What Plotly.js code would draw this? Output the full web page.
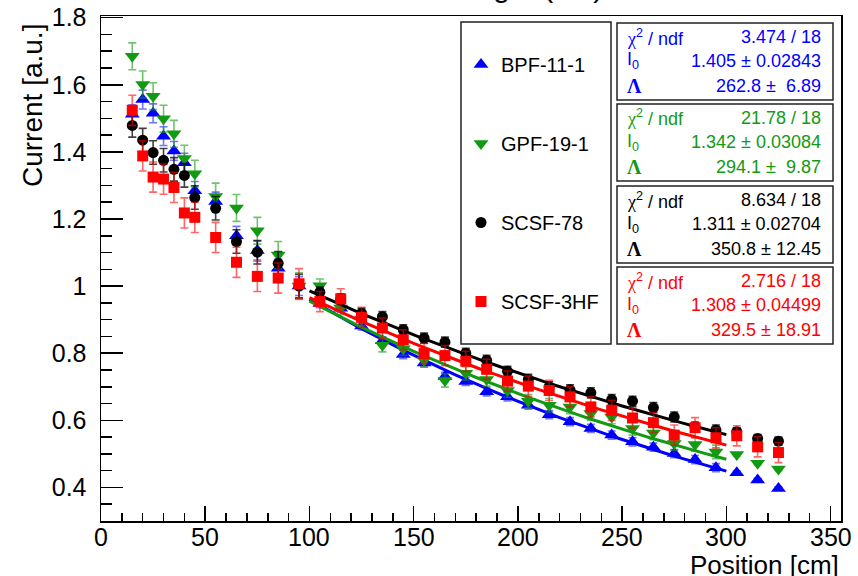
<!DOCTYPE html>
<html><head><meta charset="utf-8">
<script src="https://cdn.plot.ly/plotly-3.0.1.min.js"></script>
<style>html,body{margin:0;padding:0;background:#fff}#chart{width:858px;height:576px}</style>
</head><body><div id="chart"></div>
<script>
// ---------- data ----------
const positions = [15,20,25,30,35,40,45,55,65,75,85,95,105,115,125,135,145,155,165,175,185,195,205,215,225,235,245,255,265,275,285,295,305,315,325];
const seriesNames = ['BPF-11-1','GPF-19-1','SCSF-78','SCSF-3HF'];

const bpfValues  = [1.512,1.556,1.515,1.447,1.403,1.368,1.284,1.252,1.150,1.106,1.053,1.000,0.948,0.934,0.881,0.837,0.796,0.771,0.731,0.716,0.685,0.670,0.645,0.617,0.596,0.576,0.556,0.536,0.520,0.501,0.483,0.459,0.444,0.422,0.397];
const gpfValues  = [1.685,1.601,1.566,1.499,1.454,1.380,1.335,1.267,1.233,1.165,1.093,1.000,1.001,0.935,0.902,0.824,0.813,0.779,0.719,0.740,0.722,0.689,0.657,0.645,0.640,0.620,0.610,0.576,0.562,0.531,0.528,0.506,0.498,0.472,0.455];
const scsf78Values = [1.479,1.435,1.398,1.375,1.348,1.330,1.264,1.232,1.133,1.101,1.068,1.000,0.982,0.962,0.919,0.909,0.870,0.845,0.833,0.800,0.779,0.746,0.722,0.700,0.691,0.682,0.662,0.657,0.638,0.610,0.580,0.571,0.566,0.546,0.538];
const scsf3hfValues = [1.524,1.388,1.325,1.319,1.294,1.218,1.205,1.145,1.071,1.029,1.024,1.007,0.954,0.962,0.907,0.875,0.840,0.799,0.793,0.776,0.752,0.717,0.702,0.689,0.670,0.640,0.630,0.607,0.593,0.556,0.578,0.548,0.554,0.521,0.504];

const bpfErrors  = [0.028,0.028,0.028,0.028,0.028,0.028,0.028,0.028,0.028,0.028,0.028,0.028,0.012,0.012,0.012,0.012,0.012,0.012,0.012,0.012,0.012,0.012,0.012,0.012,0.012,0.012,0.012,0.012,0.012,0.012,0.012,0.012,0.005,0.005,0.005];
const gpfErrors  = [0.040,0.040,0.040,0.040,0.040,0.040,0.040,0.040,0.040,0.040,0.040,0.040,0.020,0.020,0.020,0.020,0.020,0.020,0.020,0.020,0.020,0.020,0.020,0.020,0.020,0.020,0.020,0.020,0.020,0.020,0.020,0.020,0.005,0.005,0.005];
const scsf78Errors = [0.035,0.035,0.035,0.035,0.035,0.035,0.035,0.035,0.035,0.035,0.035,0.035,0.015,0.015,0.015,0.015,0.015,0.015,0.015,0.015,0.015,0.015,0.015,0.015,0.015,0.015,0.015,0.015,0.015,0.015,0.015,0.015,0.012,0.012,0.012];
const scsf3hfErrors = [0.045,0.045,0.045,0.045,0.045,0.045,0.045,0.045,0.045,0.045,0.045,0.045,0.030,0.030,0.030,0.030,0.030,0.030,0.030,0.030,0.030,0.030,0.030,0.030,0.030,0.030,0.030,0.030,0.030,0.030,0.030,0.030,0.030,0.030,0.030];

// fit results I(x) = I0 * exp(-x / Lambda), shown in the stat boxes
const fitI0 = [1.405, 1.342, 1.311, 1.308];
const fitLambda = [262.8, 294.1, 350.8, 329.5];
const fitRange = [100, 300];

const statsChi = ['3.474 / 18', '21.78 / 18', '8.634 / 18', '2.716 / 18'];
const statsI0 = ['1.405 ± 0.02843', '1.342 ± 0.03084', '1.311 ± 0.02704', '1.308 ± 0.04499'];
const statsLambda = ['262.8 ±  6.89', '294.1 ±  9.87', '350.8 ± 12.45', '329.5 ± 18.91'];

const xTickVals = [0,50,100,150,200,250,300,350];
const yTickVals = [0.4,0.6,0.8,1,1.2,1.4,1.6,1.8];

// ---------- styles ----------
const colors = ['#0000ff', '#129a12', '#000000', '#ff0000'];
const errColors = ['rgba(0,0,255,0.55)', 'rgba(18,154,18,0.6)', 'rgba(0,0,0,0.75)', 'rgba(255,0,0,0.6)'];
const symbols = ['triangle-up', 'triangle-down', 'circle', 'square'];
const sizes = [13, 13, 11, 11];
const values = [bpfValues, gpfValues, scsf78Values, scsf3hfValues];
const errors = [bpfErrors, gpfErrors, scsf78Errors, scsf3hfErrors];

const FONT = 'Liberation Sans, Arial, Helvetica, sans-serif';
const L = 101, R = 841, T = 16, B = 521;
const px2x = p => (p - L) / (R - L);
const px2y = p => (B - p) / (B - T);

const traces = [];
for (let i = 0; i < 4; i++) {
  traces.push({
    type: 'scatter', mode: 'markers', name: seriesNames[i],
    x: positions, y: values[i],
    legendgroup: 'g' + i,
    marker: {symbol: symbols[i], size: sizes[i], color: colors[i], line: {width: 0}},
    error_y: {type: 'data', array: errors[i], visible: true, color: errColors[i], thickness: 1.6, width: 4},
    cliponaxis: false
  });
  const fx = [], fy = [];
  const n = 60;
  for (let k = 0; k <= n; k++) {
    const xv = fitRange[0] + (fitRange[1] - fitRange[0]) * k / n;
    fx.push(xv);
    fy.push(fitI0[i] * Math.exp(-xv / fitLambda[i]));
  }
  traces.push({
    type: 'scatter', mode: 'lines', x: fx, y: fy, showlegend: false,
    legendgroup: 'g' + i, hoverinfo: 'skip',
    line: {color: colors[i], width: 3}
  });
}

const shapes = [];
const annotations = [];
// legend frame
shapes.push({type: 'rect', xref: 'paper', yref: 'paper', x0: px2x(461), x1: px2x(611), y0: px2y(22), y1: px2y(344),
  line: {color: '#222', width: 1.5}, fillcolor: 'rgba(255,255,255,0)', layer: 'above'});
// stat boxes
const boxTops = [23, 104, 186, 267];
const boxH = 77;
const rowOff = [14, 38, 63];
for (let i = 0; i < 4; i++) {
  const t = boxTops[i];
  shapes.push({type: 'rect', xref: 'paper', yref: 'paper', x0: px2x(617), x1: px2x(833), y0: px2y(t), y1: px2y(t + boxH),
    line: {color: '#222', width: 1.5}, fillcolor: '#ffffff', layer: 'above'});
  const labels = [
    '<span style="font-family:Liberation Serif">χ</span><sup>2</sup> / ndf',
    'I<sub>0</sub>',
    '<span style="font-family:Liberation Serif;font-weight:bold;font-size:20px">Λ</span>'
  ];
  const vals = [statsChi[i], statsI0[i], statsLambda[i]];
  for (let r = 0; r < 3; r++) {
    annotations.push({xref: 'paper', yref: 'paper', x: px2x(625), y: px2y(t + rowOff[r]), xanchor: 'left', yanchor: 'middle',
      text: labels[r], showarrow: false, font: {family: FONT, size: 18, color: colors[i]}});
    annotations.push({xref: 'paper', yref: 'paper', x: px2x(823), y: px2y(t + rowOff[r]), xanchor: 'right', yanchor: 'middle',
      text: vals[r].replace(/  /g, ' &nbsp;'), showarrow: false, font: {family: FONT, size: 18, color: colors[i]}});
  }
}
// x tick labels, placed on the x scale
xTickVals.forEach(v => {
  annotations.push({xref: 'x', yref: 'paper', x: v, y: px2y(537), xanchor: 'center', yanchor: 'middle',
    text: String(v), showarrow: false, font: {family: FONT, size: 25, color: '#000'}});
});
// axis titles
annotations.push({xref: 'paper', yref: 'paper', x: 1, y: px2y(565), xanchor: 'right', yanchor: 'middle',
  text: 'Position [cm]', showarrow: false, font: {family: FONT, size: 26, color: '#000'}});
annotations.push({xref: 'paper', yref: 'paper', x: px2x(32), y: px2y(106), xanchor: 'center', yanchor: 'middle',
  text: 'Current [a.u.]', textangle: -90, showarrow: false, font: {family: FONT, size: 28, color: '#000'}});
// title (mostly cut off at the top edge)
annotations.push({xref: 'paper', yref: 'paper', x: px2x(448), y: px2y(-13), xanchor: 'center', yanchor: 'middle',
  text: 'Attenuation length (cm)', showarrow: false, font: {family: FONT, size: 30, color: '#000'}});

const layout = {
  width: 858, height: 576,
  margin: {l: L, r: 858 - R, t: T, b: 576 - B, pad: 0},
  paper_bgcolor: '#fff', plot_bgcolor: '#fff',
  font: {family: FONT, color: '#000'},
  showlegend: true,
  legend: {x: px2x(461), y: px2y(45), xanchor: 'left', yanchor: 'top', traceorder: 'grouped', tracegroupgap: 50,
    bgcolor: 'rgba(0,0,0,0)', borderwidth: 0, font: {family: FONT, size: 20, color: '#000'}, itemsizing: 'trace'},
  xaxis: {range: [0, 355], tickmode: 'array', tickvals: xTickVals, showticklabels: false,
    ticks: 'inside', ticklen: 15, tickwidth: 1.5, tickcolor: '#000',
    minor: {dtick: 10, tick0: 0, ticks: 'inside', ticklen: 8, tickwidth: 1.5, tickcolor: '#000', showgrid: false},
    showline: true, linecolor: '#000', linewidth: 1.5, mirror: true, showgrid: false, zeroline: false},
  yaxis: {range: [0.3, 1.805], tickmode: 'array', tickvals: yTickVals, ticktext: yTickVals.map(String),
    ticks: 'inside', ticklen: 22, tickwidth: 1.5, tickcolor: '#000',
    minor: {dtick: 0.05, tick0: 0, ticks: 'inside', ticklen: 11, tickwidth: 1.5, tickcolor: '#000', showgrid: false},
    showline: true, linecolor: '#000', linewidth: 1.5, mirror: true, showgrid: false, zeroline: false,
    tickfont: {family: FONT, size: 25, color: '#000'}, ticklabelstandoff: 8},
  shapes: shapes,
  annotations: annotations
};

Plotly.newPlot('chart', traces, layout, {displayModeBar: false, staticPlot: true});
</script>
</body></html>
